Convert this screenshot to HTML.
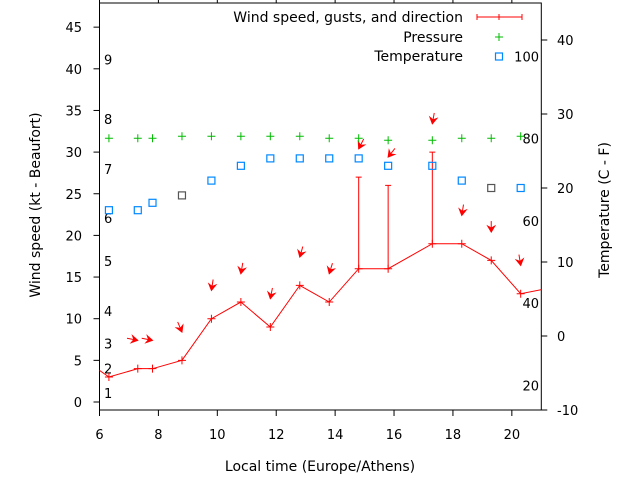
<!DOCTYPE html>
<html><head><meta charset="utf-8"><style>
html,body{margin:0;padding:0;background:#fff;}
svg{display:block;font-family:"DejaVu Sans","Liberation Sans",sans-serif;}
</style></head><body>
<svg id="chart" width="640" height="480" viewBox="0 0 640 480" xmlns="http://www.w3.org/2000/svg"></svg>
<script>
const hours = [6.32,7.3,7.8,8.8,9.8,10.8,11.8,12.8,13.8,14.8,15.8,17.3,18.3,19.3,20.3];
const windSpeed = [3,4,4,5,10,12,9,14,12,16,16,19,19,17,13];
const gusts = [null,null,null,null,null,null,null,null,null,27,26,30,null,null,null];
const windDir = [null,281,281,337,9,10,11,16,17,27,38,10,9,0,351];
const pressure = [1015,1015,1015,1016,1016,1016,1016,1016,1015,1015,1014,1014,1015,1015,1016];
const temperature = [17,17,18,19,21,23,24,24,24,24,23,23,21,20,20];
const xTicks = [6,8,10,12,14,16,18,20];
const yTicks = [0,5,10,15,20,25,30,35,40,45];
const tTicks = [-10,0,10,20,30,40];
const beaufortLabels = [["1",1.1],["2",4],["3",7],["4",10.9],["5",16.9],["6",22.1],["7",28],["8",34],["9",41.1]];
const fahrLabels = [100,80,60,40,20];

const L=99.5,R=541.3,T=3,B=410;
const X=h=>L+(h-6)/(21-6)*(R-L);
const Y=v=>402-v*8.33;
const TY=t=>B-(t+10)*7.4;
const FY=f=>TY((f-32)*5/9);
const PY=p=>138.3-(p-1015)*2;

const svg=document.getElementById('chart');
const NS='http://www.w3.org/2000/svg';
function mk(tag,attrs,parent){const e=document.createElementNS(NS,tag);for(const k in attrs)e.setAttribute(k,attrs[k]);(parent||svg).appendChild(e);return e;}

const defs=mk('defs',{});
const cp=mk('clipPath',{id:'plotclip'},defs);
mk('rect',{x:L,y:T,width:R-L,height:B-T},cp);

const frame=mk('rect',{x:L,y:T,width:R-L,height:B-T,fill:'none',stroke:'#000','stroke-width':1});



xTicks.forEach(h=>{
  const t=mk('line',{x1:X(h),x2:X(h),y1:B,y2:B+6,stroke:'#000'});
  
  
  const t2=mk('line',{x1:X(h),x2:X(h),y1:T,y2:T-6,stroke:'#000'});
  
  
  const l=mk('text',{x:X(h),y:439,'text-anchor':'middle','font-size':13});
  l.textContent=h;
  
  
});
yTicks.forEach(v=>{
  const t=mk('line',{x1:L-6,x2:L,y1:Y(v),y2:Y(v),stroke:'#000'});
  
  
  const l=mk('text',{x:82,y:Y(v)+5,'text-anchor':'end','font-size':13});
  l.textContent=v;
  
  
});
tTicks.forEach(v=>{
  const t=mk('line',{x1:R,x2:R+6,y1:TY(v),y2:TY(v),stroke:'#000'});
  
  
  const l=mk('text',{x:557,y:TY(v)+5,'font-size':13});
  l.textContent=v;
  
  
});
beaufortLabels.forEach(([s,v])=>{
  const l=mk('text',{x:104,y:Y(v)+5,'font-size':13});
  l.textContent=s;
  
  
});
fahrLabels.forEach(f=>{
  const l=mk('text',{x:539,y:FY(f)+5,'text-anchor':'end','font-size':13});
  l.textContent=f;
  
  
});

const g=mk('g',{'clip-path':'url(#plotclip)'});



let pts=[[5.32,5.5]].concat(hours.map((h,i)=>[h,windSpeed[i]])).concat([[21.3,13.7]]);
const wl=mk('polyline',{points:pts.map(p=>X(p[0])+','+Y(p[1])).join(' '),fill:'none',stroke:'#f00','stroke-width':1},g);



function plus(x,y,c,parent,name){
  const p=mk('path',{d:`M${x-4},${y}H${x+4}M${x},${y-4}V${y+4}`,stroke:c,'stroke-width':1,fill:'none'},parent);
  
  
}
hours.forEach((h,i)=>{
  plus(X(h),Y(windSpeed[i]),'#f00',g,'wind-point');
  if(gusts[i]!=null){
    const gl=mk('path',{d:`M${X(h)},${Y(windSpeed[i])}V${Y(gusts[i])}M${X(h)-3},${Y(gusts[i])}H${X(h)+3}`,stroke:'#f00',fill:'none'},g);
    
    
  }
  if(windDir[i]!=null){
    const top=gusts[i]!=null?gusts[i]:windSpeed[i];
    const hx=X(h),hy=Y(top+3.4);
    const a=windDir[i]*Math.PI/180;
    const ux=Math.sin(a),uy=-Math.cos(a);
    const tx=hx+ux*11,ty=hy+uy*11;
    const px=-uy,py=ux;
    const ag=mk('g',{},g);
    
    
    mk('line',{x1:tx,y1:ty,x2:hx,y2:hy,stroke:'#f00'},ag);
    const bx=hx+ux*6,by=hy+uy*6;
    mk('polygon',{points:`${hx},${hy} ${bx+px*3.5},${by+py*3.5} ${hx+ux*4},${hy+uy*4} ${bx-px*3.5},${by-py*3.5}`,fill:'#f00',stroke:'#f00'},ag);
  }
  plus(X(h),PY(pressure[i]),'#0b0',g,'pressure-point');
  const grey=(i===3||i===13);
  const sq=mk('rect',{x:X(h)-3.5,y:TY(temperature[i])-3.5,width:7,height:7,fill:'none',stroke:grey?'#555':'#08f','stroke-width':1.2},g);
  
  
});

const lg=mk('g',{});


[['Wind speed, gusts, and direction',22],['Pressure',42],['Temperature',61]].forEach(([s,y])=>{
  const t=mk('text',{x:463,y:y,'text-anchor':'end','font-size':14},lg);
  t.textContent=s;
  
  
});
mk('path',{d:'M477,17H522M477,14V20M522,14V20M499,14V20',stroke:'#f00',fill:'none'},lg);
plus(499,37,'#0b0',lg,'legend-pressure-marker');
mk('rect',{x:495.5,y:53,width:7,height:7,fill:'none',stroke:'#08f','stroke-width':1.2},lg);

const xt=mk('text',{x:320,y:471,'text-anchor':'middle','font-size':14});
xt.textContent='Local time (Europe/Athens)';


const yt=mk('text',{x:0,y:0,'text-anchor':'middle','font-size':14,transform:'translate(40,205) rotate(-90)'});
yt.textContent='Wind speed (kt - Beaufort)';


const rt=mk('text',{x:0,y:0,'text-anchor':'middle','font-size':14,transform:'translate(609,210) rotate(-90)'});
rt.textContent='Temperature (C - F)';


</script>
</body></html>
